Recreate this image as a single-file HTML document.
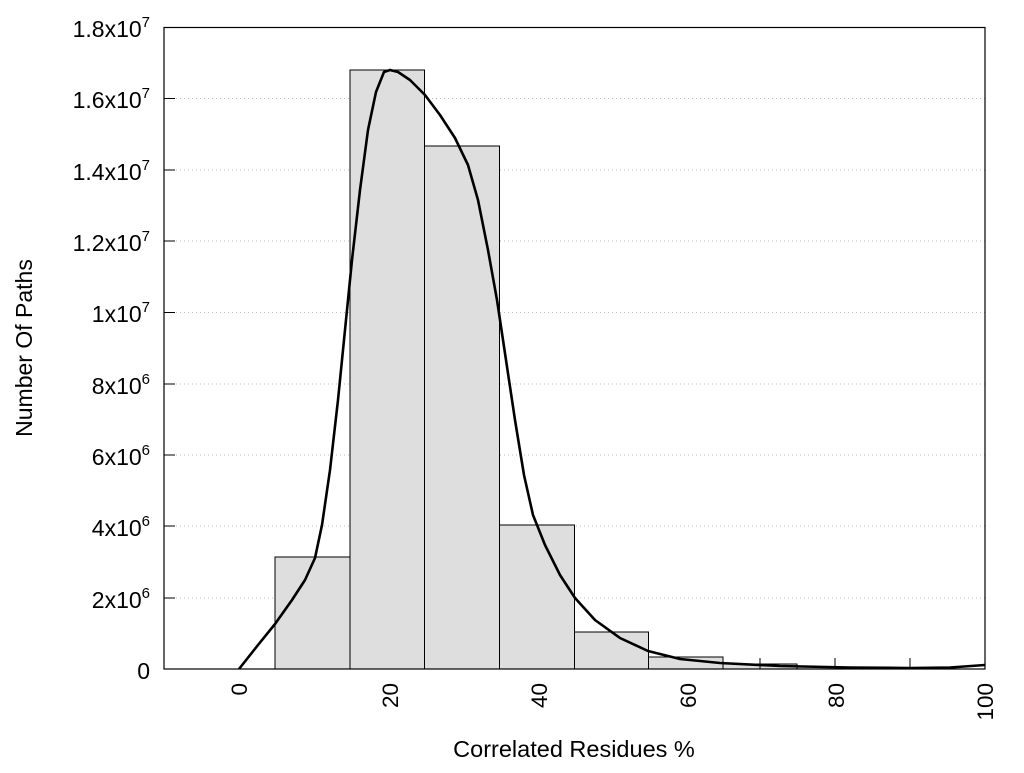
<!DOCTYPE html>
<html><head><style>body{margin:0;background:#fff}</style></head><body>
<svg width="1024" height="768" xmlns="http://www.w3.org/2000/svg" font-family="Liberation Sans, sans-serif">
<g stroke="#bbb" stroke-dasharray="1,3" stroke-width="1">
<line x1="164" x2="985" y1="98.5" y2="98.5"/><line x1="164" x2="985" y1="170" y2="170"/><line x1="164" x2="985" y1="241" y2="241"/><line x1="164" x2="985" y1="312.5" y2="312.5"/><line x1="164" x2="985" y1="384" y2="384"/><line x1="164" x2="985" y1="455" y2="455"/><line x1="164" x2="985" y1="526" y2="526"/><line x1="164" x2="985" y1="598" y2="598"/>
</g>
<g fill="#dedede" stroke="#000" stroke-width="1">
<rect x="275" y="557" width="75" height="112"/>
<rect x="350" y="70" width="74.5" height="599"/>
<rect x="424.5" y="146" width="75" height="523"/>
<rect x="499.5" y="525" width="75" height="144"/>
<rect x="574.5" y="632" width="74" height="37"/>
<rect x="648.5" y="657" width="74.5" height="12"/>
<rect x="723" y="664" width="74" height="5"/>
<rect x="797" y="667" width="75" height="2"/>
</g>
<rect x="164" y="27.5" width="821" height="641.5" fill="none" stroke="#000" stroke-width="1.2"/>
<g stroke="#000" stroke-width="1">
<line x1="164" x2="175" y1="98.5" y2="98.5"/><line x1="164" x2="175" y1="170" y2="170"/><line x1="164" x2="175" y1="241" y2="241"/><line x1="164" x2="175" y1="312.5" y2="312.5"/><line x1="164" x2="175" y1="384" y2="384"/><line x1="164" x2="175" y1="455" y2="455"/><line x1="164" x2="175" y1="526" y2="526"/><line x1="164" x2="175" y1="598" y2="598"/>
<line x1="760" x2="760" y1="669" y2="658"/><line x1="835" x2="835" y1="669" y2="658"/><line x1="910" x2="910" y1="669" y2="658"/>
</g>
<path d="M239,669 L258,645 L275,624 L292,600 L305,580 L315,558 L322,525 L330,470 L338,400 L345,330 L352,260 L360,190 L368,130 L376,92 L384,72 L390,70 L398,72 L410,80 L425,95 L440,115 L455,138 L468,165 L478,200 L488,250 L497,300 L506,360 L515,420 L524,475 L533,515 L545,545 L560,575 L575,598 L595,620 L620,638 L648,651 L680,659 L720,663 L780,666 L850,667.5 L910,668 L950,667.5 L985,665" fill="none" stroke="#000" stroke-width="2.6" stroke-linejoin="round"/>
<g font-size="23" text-anchor="end" fill="#000">
<text x="150" y="37">1.8x10<tspan font-size="15" dy="-10">7</tspan></text>
<text x="150" y="108">1.6x10<tspan font-size="15" dy="-10">7</tspan></text>
<text x="150" y="180">1.4x10<tspan font-size="15" dy="-10">7</tspan></text>
<text x="150" y="251">1.2x10<tspan font-size="15" dy="-10">7</tspan></text>
<text x="150" y="322">1x10<tspan font-size="15" dy="-10">7</tspan></text>
<text x="150" y="394">8x10<tspan font-size="15" dy="-10">6</tspan></text>
<text x="150" y="465">6x10<tspan font-size="15" dy="-10">6</tspan></text>
<text x="150" y="536">4x10<tspan font-size="15" dy="-10">6</tspan></text>
<text x="150" y="608">2x10<tspan font-size="15" dy="-10">6</tspan></text>
<text x="150" y="679">0</text>
</g>
<g font-size="22.5" text-anchor="end" fill="#000">
<text transform="translate(247,683) rotate(-90)">0</text>
<text transform="translate(398,683) rotate(-90)">20</text>
<text transform="translate(547,683) rotate(-90)">40</text>
<text transform="translate(696,683) rotate(-90)">60</text>
<text transform="translate(844,683) rotate(-90)">80</text>
<text transform="translate(993,683) rotate(-90)">100</text>
</g>
<text x="574" y="757" font-size="23.5" text-anchor="middle">Correlated Residues %</text>
<text transform="translate(32,348) rotate(-90)" font-size="23" text-anchor="middle">Number Of Paths</text>
</svg>
</body></html>
